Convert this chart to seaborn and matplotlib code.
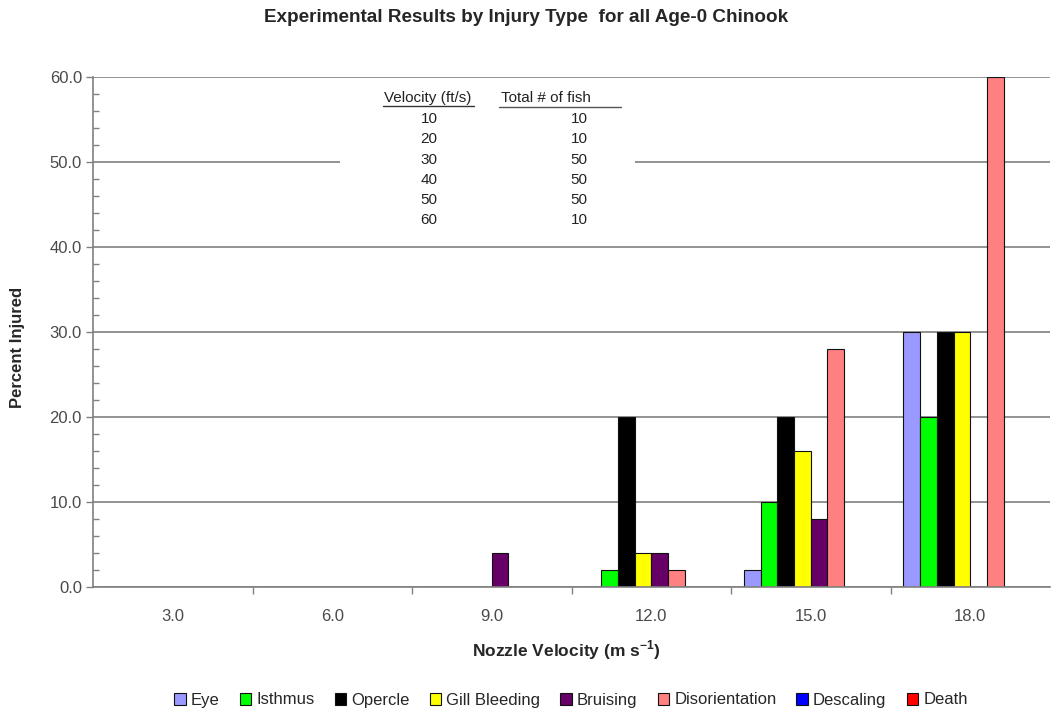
import numpy as np
import pandas as pd
import matplotlib
matplotlib.use("Agg")
import matplotlib.pyplot as plt
from matplotlib.lines import Line2D
from matplotlib.patches import Rectangle
from matplotlib.ticker import FixedLocator, MultipleLocator, NullFormatter, FixedFormatter
import seaborn as sns

# Nozzle velocity groups (m/s)
velocities = ["3.0", "6.0", "9.0", "12.0", "15.0", "18.0"]

# Injury categories and percent injured per velocity
injuries = ["Eye", "Isthmus", "Opercle", "Gill Bleeding", "Bruising",
            "Disorientation", "Descaling", "Death"]
eye = [0, 0, 0, 0, 2, 30]
isthmus = [0, 0, 0, 2, 10, 20]
opercle = [0, 0, 0, 20, 20, 30]
gill_bleeding = [0, 0, 0, 4, 16, 30]
bruising = [0, 0, 4, 4, 8, 0]
disorientation = [0, 0, 0, 2, 28, 60]
descaling = [0, 0, 0, 0, 0, 0]
death = [0, 0, 0, 0, 0, 0]

colors = ["#9999FF", "#00FF00", "#000000", "#FFFF00", "#660066",
          "#FF8080", "#0000FF", "#FF0000"]

# Sample sizes per test velocity (ft/s)
table_velocity_fts = [10, 20, 30, 40, 50, 60]
table_total_fish = [10, 10, 50, 50, 50, 10]

series = [eye, isthmus, opercle, gill_bleeding, bruising,
          disorientation, descaling, death]
rows = []
for name, vals in zip(injuries, series):
    for v, p in zip(velocities, vals):
        rows.append({"velocity": v, "injury": name, "pct": p})
df = pd.DataFrame(rows)

sns.set_theme(style="white")
plt.rcParams["font.family"] = ["Liberation Sans", "DejaVu Sans"]

W, H = 1053.0, 715.0
def fx(px):
    return px / W
def fy(py):
    return 1 - py / H

fig = plt.figure(figsize=(10.53, 7.15), dpi=100)
ax = fig.add_axes([fx(93), fy(587), (1050 - 93) / W, (587 - 77) / H])

sns.barplot(data=df, x="velocity", y="pct", hue="injury", order=velocities,
            hue_order=injuries, palette=colors, saturation=1, width=0.84,
            edgecolor="#111111", linewidth=0.8, errorbar=None, ax=ax)

handles, labels = ax.get_legend_handles_labels()
if ax.legend_ is not None:
    ax.legend_.remove()

ax.set_xlim(-0.5, len(velocities) - 0.5)
ax.set_ylim(0, 60)

# y axis: majors every 10 outward, minors every 2 inward
ax.yaxis.set_major_locator(MultipleLocator(10))
ax.yaxis.set_minor_locator(MultipleLocator(2))
ax.yaxis.set_major_formatter(matplotlib.ticker.FuncFormatter(lambda v, _: f"{v:.1f}"))
ax.tick_params(axis="y", which="major", direction="out", length=5, width=1,
               color="#808080", labelsize=12, labelcolor="#4a4a4a", pad=3, left=True)
ax.tick_params(axis="y", which="minor", direction="in", length=4, width=1,
               color="#808080", left=True)

# x axis: ticks at group boundaries, labels at group centres
boundaries = np.arange(0.5, len(velocities) - 0.5, 1.0)
ax.xaxis.set_major_locator(FixedLocator(boundaries))
ax.xaxis.set_major_formatter(NullFormatter())
ax.xaxis.set_minor_locator(FixedLocator(np.arange(len(velocities))))
ax.xaxis.set_minor_formatter(FixedFormatter(velocities))
ax.tick_params(axis="x", which="major", direction="out", length=5, width=1,
               color="#808080", bottom=True)
ax.tick_params(axis="x", which="minor", length=0, labelsize=12,
               labelcolor="#4a4a4a", pad=16)

ax.yaxis.grid(True, color="#808080", linewidth=1.2)
ax.xaxis.grid(False)
ax.set_axisbelow(True)
for side in ("top", "right"):
    ax.spines[side].set_visible(False)
for side in ("left", "bottom"):
    ax.spines[side].set_color("#808080")
    ax.spines[side].set_linewidth(1.2)

ax.set_xlabel("Nozzle Velocity (m s$^{\\mathregular{-1}}$)", fontsize=12.5,
              fontweight="bold")
ax.xaxis.set_label_coords(0.495, (587 - 650) / 510, transform=ax.transAxes)
ax.xaxis.label.set_va("center")
ax.set_ylabel("Percent Injured", fontsize=12, fontweight="bold")
ax.yaxis.set_label_coords((18 - 93) / 957, (587 - 347) / 510, transform=ax.transAxes)
ax.yaxis.label.set_va("center")

fig.suptitle("Experimental Results by Injury Type  for all Age-0 Chinook",
             x=fx(526), y=fy(18), va="center", fontsize=13.6,
             fontweight="bold")

# sample-size table on a white panel
panel = Rectangle((fx(340), fy(232)), fx(635) - fx(340), fy(85) - fy(232),
                  transform=fig.transFigure, facecolor="white", edgecolor="none",
                  zorder=2)
fig.add_artist(panel)
tkw = dict(fontsize=11, color="#222222", ha="center", va="center", zorder=3)
fig.text(fx(428), fy(98), "Velocity (ft/s)", **tkw)
fig.text(fx(546), fy(98), "Total # of fish", **tkw)
fig.add_artist(Line2D([fx(383), fx(474)], [fy(106), fy(106)], color="#333333",
                      lw=1, transform=fig.transFigure, zorder=3))
fig.add_artist(Line2D([fx(499), fx(621)], [fy(107), fy(107)], color="#555555",
                      lw=1, transform=fig.transFigure, zorder=3))
for i, (v, n) in enumerate(zip(table_velocity_fts, table_total_fish)):
    yy = fy(119 + i * 20.3)
    fig.text(fx(429), yy, str(v), **tkw)
    fig.text(fx(579), yy, str(n), **tkw)

fig.legend(handles, labels, loc="center", bbox_to_anchor=(fx(571), fy(700)),
           ncol=8, frameon=False, fontsize=12, handlelength=0.7,
           handleheight=0.7, handletextpad=0.3, columnspacing=1.2,
           borderaxespad=0)

fig.savefig("out.png", dpi=100, facecolor="white")
